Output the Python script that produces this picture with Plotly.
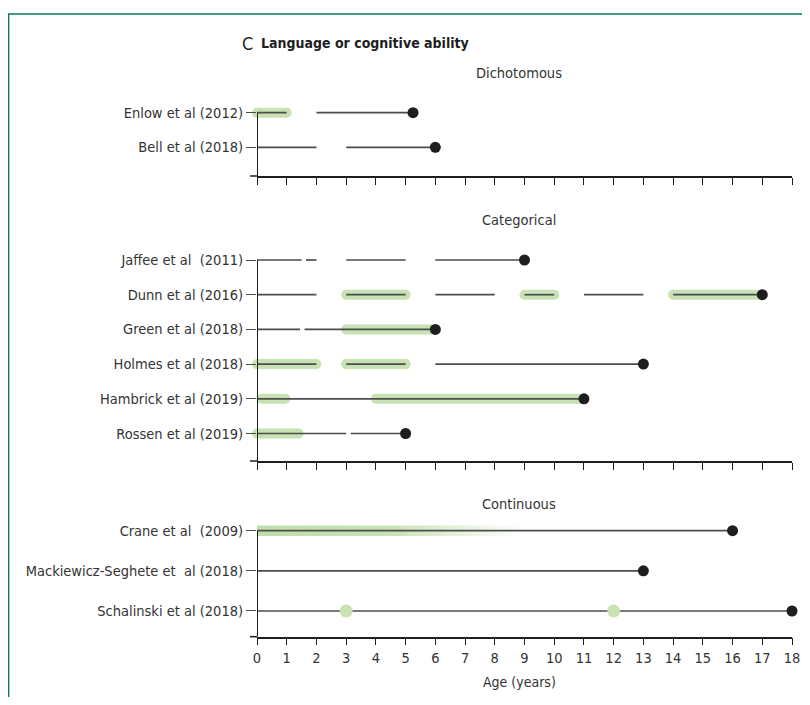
import plotly.graph_objects as go

# ---------------- data ----------------
dich_studies = ["Enlow et al (2012)", "Bell et al (2018)"]
dich_segments = [[(0, 1), (2, 5.25)], [(0, 2), (3, 6)]]
dich_highlights = [[(0, 1)], []]
dich_endpoints = [5.25, 6]

cat_studies = ["Jaffee et al  (2011)", "Dunn et al (2016)", "Green et al (2018)",
               "Holmes et al (2018)", "Hambrick et al (2019)", "Rossen et al (2019)"]
cat_segments = [
    [(0, 1.5), (1.65, 2), (3, 5), (6, 9)],
    [(0, 2), (3, 5), (6, 8), (9, 10), (11, 13), (14, 17)],
    [(0, 1.45), (1.6, 6)],
    [(0, 2), (3, 5), (6, 13)],
    [(0, 11)],
    [(0, 3), (3.15, 5)],
]
cat_highlights = [
    [],
    [(3, 5), (9, 10), (14, 17)],
    [(3, 6)],
    [(0, 2), (3, 5)],
    [(0.15, 0.95), (4, 11)],
    [(0, 1.4)],
]
cat_endpoints = [9, 17, 6, 13, 11, 5]

cont_studies = ["Crane et al  (2009)", "Mackiewicz-Seghete et  al (2018)", "Schalinski et al (2018)"]
cont_segments = [[(0, 16)], [(0, 13)], [(0, 18)]]
cont_highlights = [[], [], []]
cont_gradient = [(0, 9), None, None]
cont_points = [[], [], [3, 12]]
cont_endpoints = [16, 13, 18]

x_ticks = list(range(0, 19))

# ---------------- styling / layout constants ----------------
OFF = 8                      # page body margin of the html page
W, H = 794, 689              # figure size, fits the 810x705 page without scrolling
PLOT_L, PLOT_R = 257, 792    # plot area in page pixels
ML = PLOT_L - OFF
MR = W - (PLOT_R - OFF)
PW = W - ML - MR
GREEN = "#c8e2b4"
LINE = "#4d4d4d"
DARK = "#1e1e1e"
TXT = "#333333"
FONT = "Liberation Sans Narrow, DejaVu Sans Condensed, Roboto, sans-serif"

# panel pixel geometry (page pixels): first row, row spacing, baseline
panels = [
    dict(studies=dich_studies, segs=dich_segments, hls=dich_highlights, ends=dich_endpoints,
         grad=[None] * 2, pts=[[]] * 2, first=112.7, step=34.6, base=176.0,
         title="Dichotomous", title_px=73),
    dict(studies=cat_studies, segs=cat_segments, hls=cat_highlights, ends=cat_endpoints,
         grad=[None] * 6, pts=[[]] * 6, first=260.0, step=34.7, base=461.0,
         title="Categorical", title_px=220),
    dict(studies=cont_studies, segs=cont_segments, hls=cont_highlights, ends=cont_endpoints,
         grad=cont_gradient, pts=cont_points, first=530.7, step=40.15, base=636.7,
         title="Continuous", title_px=504),
]


def py2paper(py):
    return 1 - (py - OFF) / H


def px2paper(px):
    return (px - OFF - ML) / PW


fig = go.Figure()
layout = dict(
    width=W, height=H, margin=dict(l=ML, r=MR, t=0, b=0),
    paper_bgcolor="white", plot_bgcolor="white", showlegend=False,
    font=dict(family=FONT, color=TXT, size=14),
)
shapes = []
annotations = []

for k, p in enumerate(panels):
    n = len(p["studies"])
    xa = "x" if k == 0 else f"x{k + 1}"
    ya = "y" if k == 0 else f"y{k + 1}"
    xkey = "xaxis" if k == 0 else f"xaxis{k + 1}"
    ykey = "yaxis" if k == 0 else f"yaxis{k + 1}"
    rows = [n - i for i in range(n)]
    y_bottom = 1 - (p["base"] - (p["first"] + (n - 1) * p["step"])) / p["step"]
    y_top = n + 0.5
    top_px = p["first"] - 0.5 * p["step"]
    last = k == len(panels) - 1

    layout[xkey] = dict(
        domain=[0, 1], range=[0, 18], anchor=ya, showline=True, linecolor=DARK, linewidth=1.5,
        ticks="outside", ticklen=7, tickwidth=1.3, tickcolor=DARK, tickvals=x_ticks,
        showticklabels=last, tickfont=dict(size=14.5, color=TXT), showgrid=False, zeroline=False,
        ticklabeloverflow="allow", fixedrange=True,
    )
    layout[ykey] = dict(
        domain=[py2paper(p["base"]), py2paper(top_px)], range=[y_bottom, y_top], anchor=xa,
        tickvals=rows, ticktext=p["studies"], ticks="outside", ticklen=10, tickwidth=1.3,
        tickcolor=LINE, showline=False, showgrid=False, zeroline=False,
        tickfont=dict(size=14.5, color=TXT), fixedrange=True,
    )

    # gradient highlights (fading)
    for i, g in enumerate(p["grad"]):
        if g is None:
            continue
        hh = 5.2 / p["step"]
        fig.add_trace(go.Scatter(
            x=[g[0], g[1], g[1], g[0], g[0]],
            y=[rows[i] - hh, rows[i] - hh, rows[i] + hh, rows[i] + hh, rows[i] - hh],
            mode="lines", line=dict(width=0), fill="toself",
            fillgradient=dict(type="horizontal", colorscale=[
                [0, "rgba(192,222,170,1)"], [0.5, "rgba(198,225,178,0.95)"],
                [1, "rgba(200,226,181,0)"]]),
            xaxis=xa, yaxis=ya, hoverinfo="skip"))

    # green highlights with rounded caps
    hx, hy, cx, cy = [], [], [], []
    for i, hl in enumerate(p["hls"]):
        for a, b in hl:
            hx += [a, b, None]
            hy += [rows[i], rows[i], None]
            cx += [a, b]
            cy += [rows[i], rows[i]]
    if hx:
        fig.add_trace(go.Scatter(x=hx, y=hy, mode="lines", line=dict(color=GREEN, width=10),
                                 xaxis=xa, yaxis=ya, hoverinfo="skip"))
        fig.add_trace(go.Scatter(x=cx, y=cy, mode="markers", cliponaxis=False,
                                 marker=dict(color=GREEN, size=10, line=dict(width=0)),
                                 xaxis=xa, yaxis=ya, hoverinfo="skip"))

    # observation segments
    sx, sy = [], []
    for i, segs in enumerate(p["segs"]):
        for a, b in segs:
            sx += [a, b, None]
            sy += [rows[i], rows[i], None]
    fig.add_trace(go.Scatter(x=sx, y=sy, mode="lines", line=dict(color=LINE, width=1.7),
                             xaxis=xa, yaxis=ya, hoverinfo="skip"))

    # green time points
    gx, gy = [], []
    for i, pts in enumerate(p["pts"]):
        for v in pts:
            gx.append(v)
            gy.append(rows[i])
    if gx:
        fig.add_trace(go.Scatter(x=gx, y=gy, mode="markers", cliponaxis=False,
                                 marker=dict(color=GREEN, size=13, line=dict(width=0)),
                                 xaxis=xa, yaxis=ya, hoverinfo="skip"))

    # end points
    fig.add_trace(go.Scatter(x=p["ends"], y=rows, mode="markers", cliponaxis=False,
                             marker=dict(color=DARK, size=11, line=dict(width=0)),
                             xaxis=xa, yaxis=ya, hoverinfo="skip"))

    # vertical axis line at age 0 from first row to baseline
    shapes.append(dict(type="line", xref=xa, yref=ya, x0=0, x1=0, y0=n, y1=y_bottom,
                       line=dict(color=DARK, width=2)))
    # small left extension of the baseline
    shapes.append(dict(type="line", xref="paper", yref="paper", x0=px2paper(250), x1=0,
                       y0=py2paper(p["base"]), y1=py2paper(p["base"]),
                       line=dict(color=DARK, width=1.5)))

    annotations.append(dict(text=p["title"], xref="paper", yref="paper", x=px2paper(519),
                            y=py2paper(p["title_px"]), showarrow=False, xanchor="center",
                            yanchor="middle", font=dict(size=14.5, color=TXT)))

annotations.append(dict(text="Age (years)", xref="paper", yref="paper", x=px2paper(519),
                        y=py2paper(682), showarrow=False, xanchor="center", yanchor="middle",
                        font=dict(size=14, color=TXT)))
annotations.append(dict(text="C", xref="paper", yref="paper", x=px2paper(240), y=py2paper(43),
                        showarrow=False, xanchor="left", yanchor="middle",
                        font=dict(size=18, color=DARK)))
annotations.append(dict(text="<b>Language or cognitive ability</b>", xref="paper", yref="paper",
                        x=px2paper(259), y=py2paper(43), showarrow=False, xanchor="left",
                        yanchor="middle", font=dict(size=14, color=DARK)))

# frame lines (top and left)
FRAME = "#0b7a4e"
shapes.append(dict(type="line", xref="paper", yref="paper", x0=px2paper(8), x1=px2paper(812),
                   y0=py2paper(14), y1=py2paper(14), line=dict(color=FRAME, width=1.5)))
shapes.append(dict(type="line", xref="paper", yref="paper", x0=px2paper(8.6), x1=px2paper(8.6),
                   y0=py2paper(14), y1=py2paper(710), line=dict(color=FRAME, width=1.5)))

layout["shapes"] = shapes
layout["annotations"] = annotations
fig.update_layout(**layout)
fig.write_html("out.html")
